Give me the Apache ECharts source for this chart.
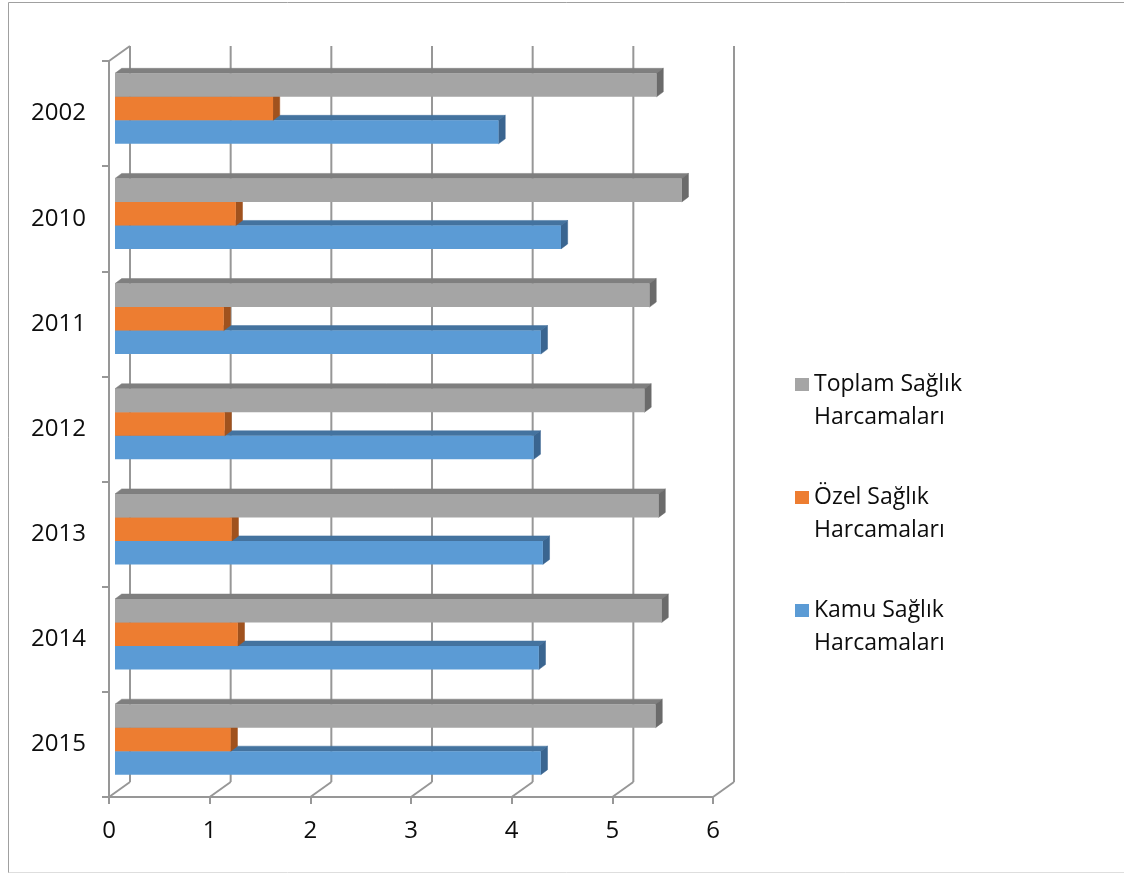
<!DOCTYPE html>
<html>
<head>
<meta charset="utf-8">
<script src="https://cdn.jsdelivr.net/npm/echarts@6/dist/echarts.min.js"></script>
<style>
  html, body { margin: 0; padding: 0; background: #fff; }
  #chart { width: 1124px; height: 874px; }
</style>
</head>
<body>
<div id="chart"></div>
<script>
// Sağlık harcamaları (GSYH'ye oranı, %)
const categories = ['2002', '2010', '2011', '2012', '2013', '2014', '2015'];
const kamuValues = [3.81, 4.43, 4.23, 4.16, 4.25, 4.21, 4.23];
const ozelValues = [1.57, 1.20, 1.08, 1.09, 1.16, 1.22, 1.15];
const toplamValues = [5.38, 5.63, 5.31, 5.26, 5.40, 5.43, 5.37];
const valueTicks = [0, 1, 2, 3, 4, 5, 6];

const NAME_TOPLAM = 'Toplam Sağlık Harcamaları';
const NAME_OZEL = 'Özel Sağlık Harcamaları';
const NAME_KAMU = 'Kamu Sağlık Harcamaları';

// oblique 3D projection offsets (pixels)
const WALL = [21, -15];        // back wall relative to front edge
const NEAR = [6, -5];          // front face of the bars
const FAR = [12.7, -10];       // back face of the bars
const BAR_FRAC = 0.2235;       // bar thickness as share of a category band
const GROUP_TOP = -0.3353;     // first bar's top edge relative to band centre
const LINE = '#979797';
const TEXT = '#0d0d0d';
const FONT = '"Open Sans", "Noto Sans", sans-serif';

function frameItem(params, api) {
  const cs = params.coordSys;
  const v = api.value(0);
  const x = api.coord([v, 0])[0];
  const bottom = cs.y + cs.height;
  const children = [
    { type: 'line', shape: { x1: x + WALL[0], y1: bottom + WALL[1], x2: x + WALL[0], y2: cs.y + WALL[1] },
      style: { stroke: LINE, lineWidth: 2 } },
    { type: 'line', shape: { x1: x, y1: bottom, x2: x + WALL[0], y2: bottom + WALL[1] },
      style: { stroke: LINE, lineWidth: 2 } }
  ];
  if (v === 0) {
    children.push({ type: 'line', shape: { x1: cs.x, y1: cs.y, x2: cs.x + WALL[0], y2: cs.y + WALL[1] },
      style: { stroke: LINE, lineWidth: 2 } });
  }
  return { type: 'group', children: children };
}

function barRenderer(slot, front, top, side) {
  return function (params, api) {
    const i = api.value(0);
    const v = api.value(1);
    const start = api.coord([0, i]);
    const end = api.coord([v, i]);
    const band = api.size([0, 1])[1];
    const yt = start[1] + (GROUP_TOP + slot * BAR_FRAC) * band;
    const yb = yt + BAR_FRAC * band;
    const x0 = start[0], x1 = end[0];
    return {
      type: 'group',
      children: [
        { type: 'polygon', shape: { points: [
            [x0 + NEAR[0], yt + NEAR[1]], [x1 + NEAR[0], yt + NEAR[1]],
            [x1 + FAR[0], yt + FAR[1]], [x0 + FAR[0], yt + FAR[1]] ] },
          style: { fill: top, stroke: top, lineWidth: 0.5 } },
        { type: 'polygon', shape: { points: [
            [x1 + NEAR[0], yt + NEAR[1]], [x1 + FAR[0], yt + FAR[1]],
            [x1 + FAR[0], yb + FAR[1]], [x1 + NEAR[0], yb + NEAR[1]] ] },
          style: { fill: side, stroke: side, lineWidth: 0.5 } },
        { type: 'rect', shape: { x: x0 + NEAR[0], y: yt + NEAR[1], width: x1 - x0, height: yb - yt },
          style: { fill: front } }
      ]
    };
  };
}

function toPairs(values) {
  return values.map(function (v, i) { return [i, v]; });
}

const chart = echarts.init(document.getElementById('chart'), null, { renderer: 'canvas' });

chart.setOption({
  animation: false,
  backgroundColor: '#ffffff',
  textStyle: { fontFamily: FONT },
  grid: { left: 109, right: 411, top: 61, bottom: 77, containLabel: false },
  xAxis: {
    type: 'value',
    min: 0,
    max: 6,
    interval: 1,
    axisLine: { show: true, lineStyle: { color: LINE, width: 2 } },
    axisTick: { show: true, length: 7, lineStyle: { color: LINE, width: 2 } },
    axisLabel: { margin: 22, fontSize: 24, color: TEXT, fontFamily: FONT,
      formatter: function (v) { return String(valueTicks[v]); } },
    splitLine: { show: false }
  },
  yAxis: {
    type: 'category',
    data: categories,
    inverse: true,
    axisLine: { show: true, lineStyle: { color: LINE, width: 2 } },
    axisTick: { show: true, length: 7, lineStyle: { color: LINE, width: 2 } },
    axisLabel: { margin: 23, fontSize: 24, color: TEXT, fontFamily: FONT },
    splitLine: { show: false }
  },
  legend: {
    orient: 'vertical',
    left: 790,
    top: 330,
    itemWidth: 14,
    itemHeight: 13,
    itemGap: 14,
    icon: 'rect',
    selectedMode: false,
    data: [NAME_TOPLAM, NAME_OZEL, NAME_KAMU],
    textStyle: { fontSize: 23, lineHeight: 33, color: TEXT, fontFamily: FONT },
    formatter: function (name) {
      const parts = name.split(' ');
      return '\n' + parts[0] + ' ' + parts[1] + '\n' + parts[2];
    }
  },
  graphic: [
    { type: 'polyline', silent: true,
      shape: { points: [[8.5, 873], [8.5, 2.5], [1124, 2.5]] },
      style: { stroke: '#a0a0a0', lineWidth: 1, fill: null } },
    { type: 'line', silent: true,
      shape: { x1: 8.5, y1: 872.5, x2: 1124, y2: 872.5 },
      style: { stroke: '#dedede', lineWidth: 1 } }
  ],
  series: [
    {
      name: 'frame',
      type: 'custom',
      silent: true,
      renderItem: frameItem,
      data: valueTicks.map(function (v) { return [v]; }),
      encode: { x: 0 }
    },
    {
      name: NAME_KAMU,
      type: 'custom',
      itemStyle: { color: '#5b9bd5' },
      renderItem: barRenderer(2, '#5b9bd5', '#44739f', '#3a6590'),
      data: toPairs(kamuValues),
      encode: { y: 0, x: 1 }
    },
    {
      name: NAME_OZEL,
      type: 'custom',
      itemStyle: { color: '#ed7d31' },
      renderItem: barRenderer(1, '#ed7d31', '#b35d24', '#a0521e'),
      data: toPairs(ozelValues),
      encode: { y: 0, x: 1 }
    },
    {
      name: NAME_TOPLAM,
      type: 'custom',
      itemStyle: { color: '#a5a5a5' },
      renderItem: barRenderer(0, '#a5a5a5', '#7f7f7f', '#6b6b6b'),
      data: toPairs(toplamValues),
      encode: { y: 0, x: 1 }
    }
  ]
});
</script>
</body>
</html>
